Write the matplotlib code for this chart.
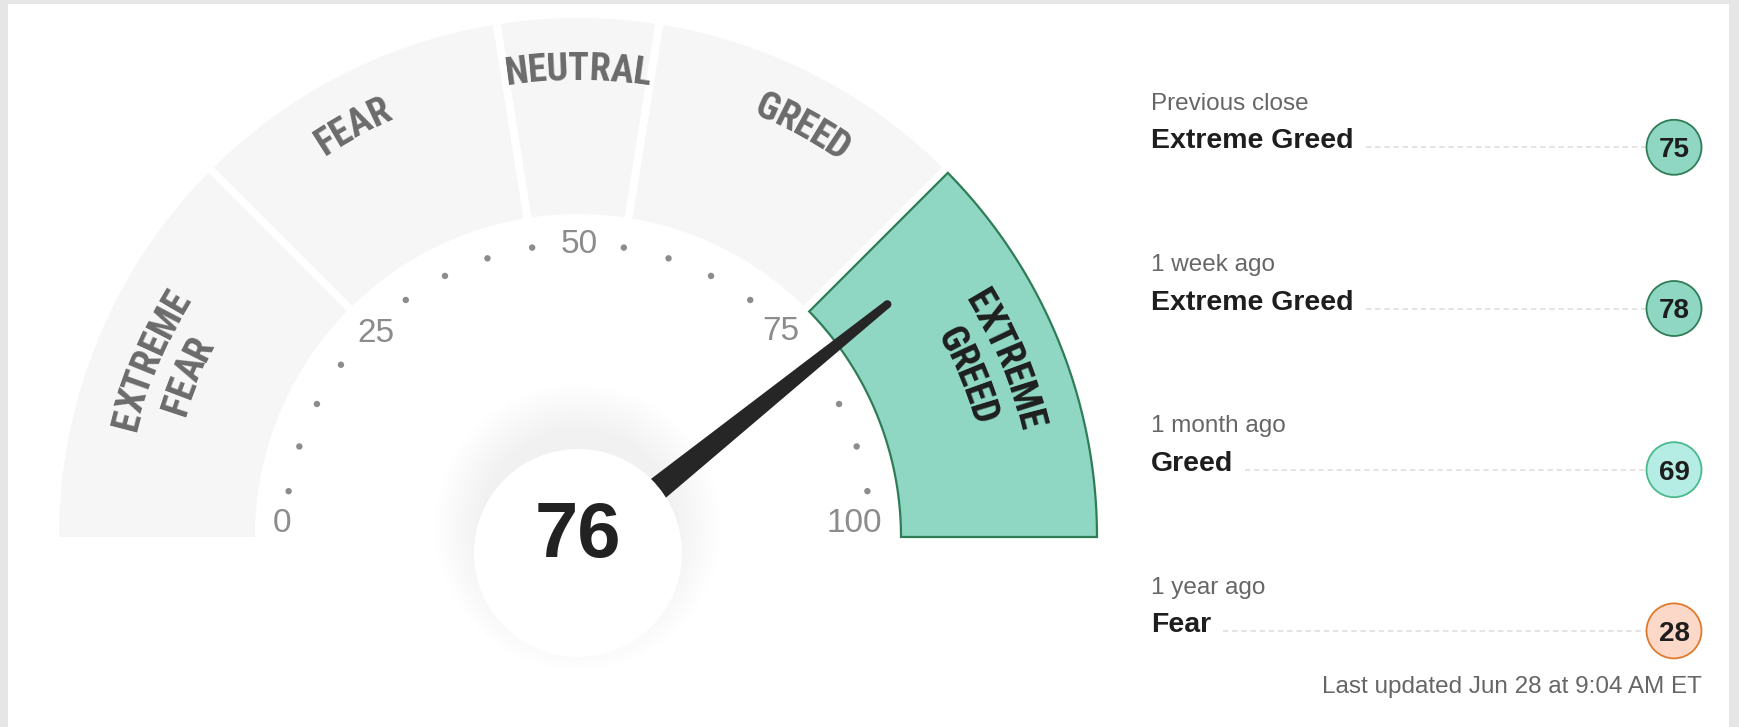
import numpy as np
import matplotlib
matplotlib.use('Agg')
import matplotlib.pyplot as plt
from matplotlib.patches import Polygon, Circle, Rectangle
from matplotlib.font_manager import FontProperties, fontManager

# gauge
zone_edges = [0, 25, 45, 55, 75, 100]
zone_labels = ['EXTREME\nFEAR', 'FEAR', 'NEUTRAL', 'GREED', 'EXTREME\nGREED']
scale_ticks = [0, 25, 50, 75, 100]
score = 76

# history panel
hist_when = ['Previous close', '1 week ago', '1 month ago', '1 year ago']
hist_rating = ['Extreme Greed', 'Extreme Greed', 'Greed', 'Fear']
hist_score = [75, 78, 69, 28]
updated = 'Last updated Jun 28 at 9:04 AM ET'

rating_colors = {
    'Extreme Fear': ('#f8b9a0', '#c8501c'),
    'Fear': ('#fcd8c8', '#e07a2c'),
    'Neutral': ('#eeeeee', '#999999'),
    'Greed': ('#b5ece3', '#4ab98b'),
    'Extreme Greed': ('#8fd6c3', '#2f7d57'),
}

# pick a condensed bold face for the zone names if one is installed
names = {f.name for f in fontManager.ttflist}
narrow_family, narrow_stretch = 'Roboto', 'normal'
for nm in ['Liberation Sans Narrow', 'Roboto Condensed', 'Open Sans Condensed',
           'Noto Sans Condensed', 'DejaVu Sans Condensed']:
    if nm in names:
        narrow_family = nm
        break
else:
    if any(f.name == 'DejaVu Sans' and f.stretch == 'condensed' for f in fontManager.ttflist):
        narrow_family, narrow_stretch = 'DejaVu Sans', 'condensed'
    elif 'Roboto' not in names:
        narrow_family = 'DejaVu Sans'
sans = 'Liberation Sans'

# geometry in image pixels (y down)
CX, CY = 578, 537
R_OUT, R_IN = 519, 323
GAP = 8
R_DOTS = 293
HUB = (578, 553)
HUB_R = 104

fig = plt.figure(figsize=(17.39, 7.27), dpi=100, facecolor='#e6e6e6')
ax = fig.add_axes([0, 0, 1, 1])
ax.set_xlim(0, 1739)
ax.set_ylim(727, 0)
ax.axis('off')
ax.add_patch(Rectangle((8, 4), 1721, 740, fc='white', lw=0, zorder=0))
rend = fig.canvas.get_renderer()


def ang(v):
    return 180 - 1.8 * v


def polar(a, r, c=(CX, CY)):
    t = np.radians(a)
    return c[0] + r * np.cos(t), c[1] - r * np.sin(t)


def text_w(s, prop):
    if not s:
        return 0.0
    w, h, d = rend.get_text_width_height_descent(s, prop, ismath=False)
    return w


def band(a_hi, a_lo, d_hi, d_lo):
    o = np.linspace(a_hi - np.degrees(np.arcsin(d_hi / R_OUT)),
                    a_lo + np.degrees(np.arcsin(d_lo / R_OUT)), 150)
    i = np.linspace(a_lo + np.degrees(np.arcsin(d_lo / R_IN)),
                    a_hi - np.degrees(np.arcsin(d_hi / R_IN)), 150)
    pts = [polar(a, R_OUT) for a in o] + [polar(a, R_IN) for a in i]
    return np.array(pts)


# size the zone font so NEUTRAL spans ~150 px, like the source
probe = FontProperties(family=narrow_family, weight='bold', stretch=narrow_stretch, size=27.5)
zone_size = min(27.5, 27.5 * 150 / text_w('NEUTRAL', probe))
zone_prop = FontProperties(family=narrow_family, weight='bold', stretch=narrow_stretch, size=zone_size)


def arc_text(txt, a_mid, r_mid, color):
    em = zone_size * 100 / 72
    r_base = r_mid - 0.716 * em / 2
    total = text_w(txt, zone_prop)
    for i, ch in enumerate(txt):
        s = (text_w(txt[:i], zone_prop) + text_w(txt[:i + 1], zone_prop)) / 2 - total / 2
        a = a_mid - np.degrees(s / r_mid)
        x, y = polar(a, r_base)
        ax.text(x, y, ch, rotation=a - 90, rotation_mode='anchor',
                ha='center', va='baseline', fontproperties=zone_prop, color=color, zorder=5)


# zones
active = max(i for i in range(len(zone_labels)) if score >= zone_edges[i])
label_nudge = {1: 1.7, 3: -1.7}
for i, lab in enumerate(zone_labels):
    lo, hi = zone_edges[i], zone_edges[i + 1]
    d_hi = 0 if lo == 0 else GAP / 2
    d_lo = 0 if hi == 100 else GAP / 2
    pts = band(ang(lo), ang(hi), d_hi, d_lo)
    if i == active:
        ax.add_patch(Polygon(pts, closed=True, fc='#8fd6c3', ec='#2f7d57', lw=1.6, zorder=2))
        col = '#1e1e1e'
    else:
        ax.add_patch(Polygon(pts, closed=True, fc='#f6f6f6', lw=0, zorder=2))
        col = '#6b6b6b'
    a_mid = (ang(lo) + ang(hi)) / 2 + label_nudge.get(i, 0)
    lines = lab.split('\n')
    if len(lines) == 1:
        arc_text(lines[0], a_mid, 471, col)
    else:
        arc_text(lines[0], a_mid, 468, col)
        arc_text(lines[1], a_mid, 425, col)

# scale dots and numbers
for v in range(5, 100, 5):
    if v in scale_ticks:
        continue
    ax.add_patch(Circle(polar(ang(v), R_DOTS), 3.2, fc='#8c8c8c', lw=0, zorder=3))

tick_nudge = {0: (-3, -17), 25: (5, 0), 50: (1, -3), 75: (-4, -2), 100: (-17, -17)}
for v in scale_ticks:
    x, y = polar(ang(v), R_DOTS)
    dx, dy = tick_nudge[v]
    ax.text(x + dx, y + dy + 12, str(v), ha='center', va='baseline', family=sans,
            size=24, color='#8c8c8c', zorder=3)

# hub shadow, soft and lifted
for k in range(14):
    ax.add_patch(Circle((HUB[0], HUB[1] - 26), 98 + 3.5 * k, fc='black',
                        alpha=0.0045, lw=0, zorder=3))

# needle (drawn slightly right of the linear scale, as in the source)
needle_offset = -4.4
na = ang(score) + needle_offset
L = 397
t = np.radians(na)
u = np.array([np.cos(t), -np.sin(t)])
nrm = np.array([np.sin(t), np.cos(t)])
hub = np.array(HUB, dtype=float)
tip = hub + L * u
w0, w1 = 14.8, 4.0
needle = np.array([hub + w0 * nrm, tip + w1 * nrm, tip - w1 * nrm, hub - w0 * nrm])
ax.add_patch(Polygon(needle, closed=True, fc='#262626', lw=0, zorder=4))
ax.add_patch(Circle(tuple(tip), w1, fc='#262626', lw=0, zorder=4))

# hub
ax.add_patch(Circle(HUB, HUB_R, fc='white', lw=0, zorder=6))
ax.text(HUB[0], 557.5, str(score), ha='center', va='baseline', family=sans,
        weight='bold', size=56, color='#222222', zorder=7)

# history panel
X0 = 1151
CIRC_X, CIRC_R = 1674, 27.5
PITCH = 161.2
for i in range(len(hist_when)):
    cy = 147.3 + PITCH * i
    ax.text(X0, cy - 37.3, hist_when[i], ha='left', va='baseline', family=sans,
            size=17.5, color='#666666', zorder=5)
    nt = ax.text(X0, cy + 1.2, hist_rating[i], ha='left', va='baseline', family=sans,
                 weight='bold', size=20.5, color='#1e1e1e', zorder=5)
    bb = nt.get_window_extent(renderer=rend)
    x_end = bb.x1
    ax.plot([x_end + 12, CIRC_X - CIRC_R], [cy, cy], color='#dcdcdc', lw=1.1,
            linestyle=(0, (3.5, 2.5)), zorder=4)
    fc, ec = rating_colors[hist_rating[i]]
    ax.add_patch(Circle((CIRC_X, cy), CIRC_R, fc=fc, ec=ec, lw=1.3, zorder=5))
    ax.text(CIRC_X, cy + 10, str(hist_score[i]), ha='center', va='baseline', family=sans,
            weight='bold', size=20, color='#1e1e1e', zorder=6)

ax.text(1702, 693.5, updated, ha='right', va='baseline', family=sans,
        size=17.5, color='#666666', zorder=5)

fig.savefig('out.png', dpi=100, facecolor=fig.get_facecolor())
